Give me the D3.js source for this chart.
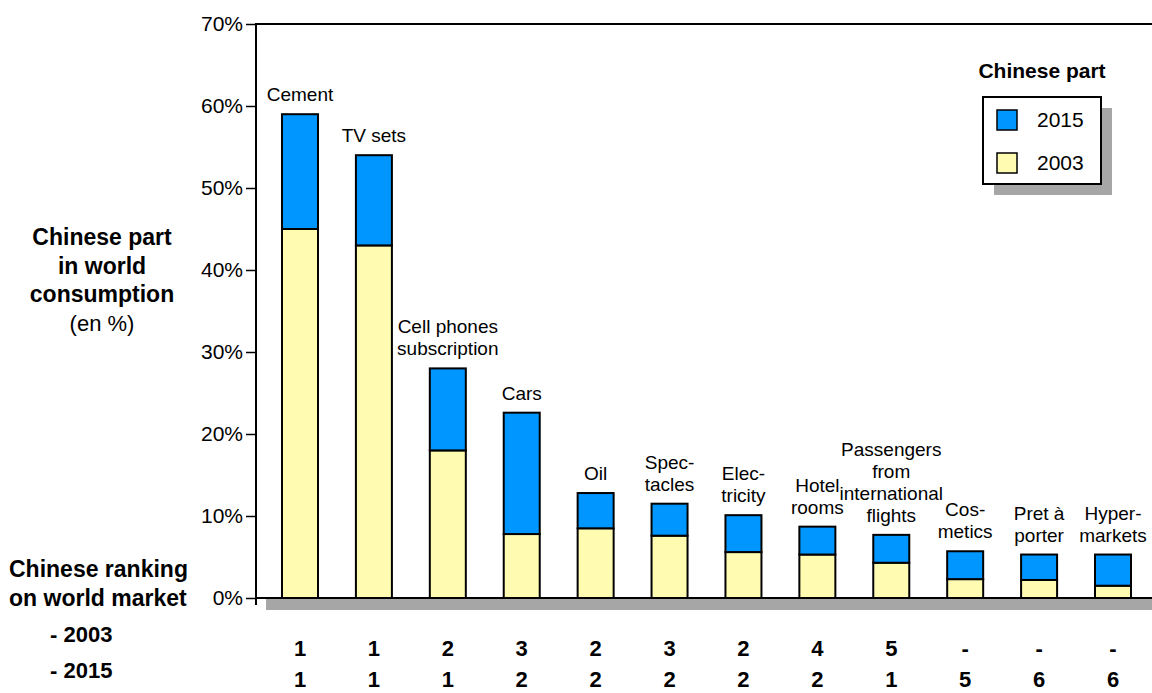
<!DOCTYPE html>
<html>
<head>
<meta charset="utf-8">
<script src="https://cdn.jsdelivr.net/npm/d3@7/dist/d3.min.js"></script>
<style>
  html, body { margin: 0; padding: 0; background: #fff; }
  svg { display: block; font-family: "Liberation Sans", Arial, Helvetica, sans-serif; }
</style>
</head>
<body>
<svg id="chart" width="1152" height="693"></svg>
<script>
// Product categories (line breaks mark how the label wraps above each bar)
const categories = [
  "Cement", "TV sets", "Cell phones\nsubscription", "Cars", "Oil", "Spec-\ntacles",
  "Elec-\ntricity", "Hotel\nrooms", "Passengers\nfrom\ninternational\nflights",
  "Cos-\nmetics", "Pret à\nporter", "Hyper-\nmarkets"
];
// Chinese share of world consumption, in %
const share2003 = [45.0, 43.0, 18.0, 7.8, 8.5, 7.6, 5.6, 5.3, 4.3, 2.3, 2.2, 1.5];
const share2015 = [59.0, 54.0, 28.0, 22.6, 12.8, 11.5, 10.1, 8.7, 7.7, 5.7, 5.3, 5.3];
// Chinese ranking on the world market
const rank2003 = ["1", "1", "2", "3", "2", "3", "2", "4", "5", "-", "-", "-"];
const rank2015 = ["1", "1", "1", "2", "2", "2", "2", "2", "1", "5", "6", "6"];
// Axis ticks
const yTicks = [0, 10, 20, 30, 40, 50, 60, 70];
const seriesNames = ["2015", "2003"];

const colors = { "2015": "#0096ff", "2003": "#fffbb1" };
const shadow = "#a6a6a6";

const svg = d3.select("#chart");
svg.append("rect").attr("width", 1152).attr("height", 693).attr("fill", "#fff");

const plotLeft = 256, plotRight = 1200;
const y = d3.scaleLinear().domain([0, 70]).range([598, 24]);
const x = d3.scalePoint().domain(d3.range(categories.length)).range([300, 1113]);
const barW = 36;

// Plot area: drop shadow then framed box
svg.append("rect")
  .attr("x", plotLeft + 10).attr("y", y(70) + 12)
  .attr("width", plotRight - plotLeft).attr("height", y(0) - y(70))
  .attr("fill", shadow);
svg.append("rect")
  .attr("x", plotLeft).attr("y", y(70))
  .attr("width", plotRight - plotLeft).attr("height", y(0) - y(70))
  .attr("fill", "#fff").attr("stroke", "#000").attr("stroke-width", 2);

// Y axis
const yAxis = d3.axisLeft(y)
  .tickValues(yTicks)
  .tickFormat(d => d + "%")
  .tickSize(10)
  .tickSizeOuter(0)
  .tickPadding(3);
const gy = svg.append("g").attr("transform", `translate(${plotLeft},0)`).call(yAxis);
gy.select(".domain").attr("stroke", "#000").attr("stroke-width", 2)
  .attr("d", `M0,${y(70)}V${y(0) + 7}`);
gy.selectAll(".tick line").attr("stroke", "#000").attr("stroke-width", 1.5);
gy.selectAll(".tick text")
  .attr("font-size", 21).attr("fill", "#000")
  .attr("font-family", "'Liberation Sans', Arial, sans-serif");

// Stacked bars: 2003 share at the bottom, growth to the 2015 share on top
const bars = svg.append("g");
categories.forEach((c, i) => {
  const cx = x(i);
  bars.append("rect")
    .attr("x", cx - barW / 2).attr("y", y(share2003[i]))
    .attr("width", barW).attr("height", y(0) - y(share2003[i]))
    .attr("fill", colors["2003"]).attr("stroke", "#000").attr("stroke-width", 2);
  bars.append("rect")
    .attr("x", cx - barW / 2).attr("y", y(share2015[i]))
    .attr("width", barW).attr("height", y(share2003[i]) - y(share2015[i]))
    .attr("fill", colors["2015"]).attr("stroke", "#000").attr("stroke-width", 2);

  // Category label above the bar
  const lines = c.split("\n");
  const t = svg.append("text")
    .attr("text-anchor", "middle")
    .attr("font-size", 19).attr("fill", "#000");
  lines.forEach((ln, k) => {
    t.append("tspan")
      .attr("x", cx)
      .attr("y", y(share2015[i]) - 13 - (lines.length - 1 - k) * 22)
      .text(ln);
  });
});

// Baseline redrawn over bar bottoms
svg.append("line")
  .attr("x1", plotLeft).attr("x2", plotRight)
  .attr("y1", y(0)).attr("y2", y(0))
  .attr("stroke", "#000").attr("stroke-width", 2);

// Y axis title
const yTitle = svg.append("text").attr("text-anchor", "middle").attr("fill", "#000");
[["Chinese part", 245, true], ["in world", 274, true], ["consumption", 302, true], ["(en %)", 331, false]]
  .forEach(([s, by, bold]) => {
    yTitle.append("tspan").attr("x", 102).attr("y", by)
      .attr("font-size", bold ? 23 : 22)
      .attr("font-weight", bold ? "bold" : "normal")
      .text(s);
  });

// Ranking block
const rk = svg.append("g").attr("font-weight", "bold").attr("fill", "#000");
rk.append("text").attr("x", 9).attr("y", 577).attr("font-size", 23).text("Chinese ranking");
rk.append("text").attr("x", 9).attr("y", 606).attr("font-size", 23).text("on world market");
rk.append("text").attr("x", 50).attr("y", 642).attr("font-size", 22).text("- " + seriesNames[1]);
rk.append("text").attr("x", 50).attr("y", 678).attr("font-size", 22).text("- " + seriesNames[0]);
rk.selectAll("text.r03").data(rank2003).join("text").attr("class", "r03")
  .attr("x", (d, i) => x(i)).attr("y", 656).attr("text-anchor", "middle")
  .attr("font-size", 22).text(d => d);
rk.selectAll("text.r15").data(rank2015).join("text").attr("class", "r15")
  .attr("x", (d, i) => x(i)).attr("y", 687).attr("text-anchor", "middle")
  .attr("font-size", 22).text(d => d);

// Legend
const lg = svg.append("g");
lg.append("text").attr("x", 1042).attr("y", 78).attr("text-anchor", "middle")
  .attr("font-size", 21).attr("font-weight", "bold").text("Chinese part");
lg.append("rect").attr("x", 994).attr("y", 108).attr("width", 118).attr("height", 87).attr("fill", shadow);
lg.append("rect").attr("x", 983).attr("y", 97).attr("width", 118).attr("height", 87)
  .attr("fill", "#fff").attr("stroke", "#000").attr("stroke-width", 2);
seriesNames.forEach((s, k) => {
  const top = 110 + k * 43;
  lg.append("rect").attr("x", 997).attr("y", top).attr("width", 20).attr("height", 20)
    .attr("fill", colors[s]).attr("stroke", "#000").attr("stroke-width", 1.5);
  lg.append("text").attr("x", 1037).attr("y", top + 17).attr("font-size", 21).text(s);
});
</script>
</body>
</html>
